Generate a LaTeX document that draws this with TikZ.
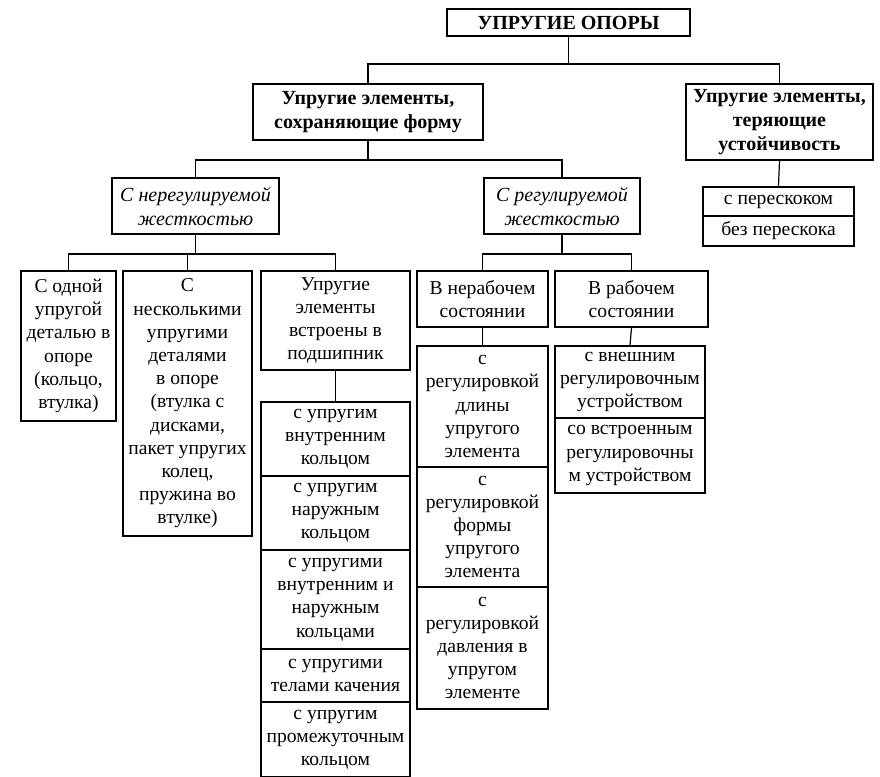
\documentclass[tikz,border=0pt]{standalone}
\usepackage{fontspec}
\setmainfont{Liberation Serif}
\usetikzlibrary{positioning}
\definecolor{FrameBlack}{RGB}{0, 0, 0}

\begin{document}
\begin{tikzpicture}[x=0.5pt, y=-0.5pt,
  box/.style={draw=FrameBlack, line width=0.9pt, align=center, inner sep=0pt, font=\fontsize{9.8}{11.6}\selectfont},
  headbox/.style={box, font=\fontsize{10}{12}\selectfont\bfseries},
  kindbox/.style={box, font=\fontsize{10}{12}\selectfont\itshape},
  cell/.style={box, line width=0.7pt},
  link/.style={draw=FrameBlack, line width=0.6pt}]
\useasboundingbox (0,0) rectangle (880,777);
\node[headbox, minimum width=121.5pt, minimum height=13.5pt] (root) at (568.5,22.5) {УПРУГИЕ ОПОРЫ};
\node[headbox, minimum width=115pt, minimum height=28pt] (keep) at (368,112) {Упругие элементы,\\сохраняющие форму};
\node[headbox, minimum width=93.5pt, minimum height=38pt] (lose) at (779.5,122) {Упругие элементы,\\теряющие\\устойчивость};
\node[cell, minimum width=75.5pt, minimum height=14.5pt] (snap) at (778.5,201.5) {с перескоком};
\node[cell, minimum width=75.5pt, minimum height=15pt] (nosnap) at (778.5,231) {без перескока};
\node[kindbox, minimum width=83.5pt, minimum height=28pt] (fixed) at (195.5,206) {С нерегулируемой\\жесткостью};
\node[kindbox, minimum width=78pt, minimum height=28pt] (tuned) at (562,206) {С регулируемой\\жесткостью};
\node[box, minimum width=47.5pt, minimum height=75pt] (one) at (68.5,346) {С одной\\упругой\\деталью в\\опоре\\(кольцо,\\втулка)};
\node[box, minimum width=64.5pt, minimum height=132.5pt] (many) at (187.5,403.5) {С\\несколькими\\упругими\\деталями\\в опоре\\(втулка с\\дисками,\\пакет упругих\\колец,\\пружина во\\втулке)};
\node[box, minimum width=74.5pt, minimum height=49.5pt] (inbear) at (335.5,320.5) {Упругие\\элементы\\встроены в\\подшипник};
\node[cell, minimum width=74.5pt, minimum height=37pt] (inring) at (335.5,439) {с упругим\\внутренним\\кольцом};
\node[cell, minimum width=74.5pt, minimum height=37pt] (outring) at (335.5,513) {с упругим\\наружным\\кольцом};
\node[cell, minimum width=74.5pt, minimum height=49.5pt] (bothring) at (335.5,599.5) {с упругими\\внутренним и\\наружным\\кольцами};
\node[cell, minimum width=74.5pt, minimum height=26.5pt] (rollers) at (335.5,675.5) {с упругими\\телами качения};
\node[cell, minimum width=74.5pt, minimum height=37.5pt] (midring) at (335.5,739.5) {с упругим\\промежуточным\\кольцом};
\node[box, minimum width=65.5pt, minimum height=28pt] (idle) at (482.5,299) {В нерабочем\\состоянии};
\node[box, minimum width=76.5pt, minimum height=28pt] (work) at (631.5,299) {В рабочем\\состоянии};
\node[cell, minimum width=65.5pt, minimum height=60.5pt] (length) at (482.5,406.5) {с\\регулировкой\\длины\\упругого\\элемента};
\node[cell, minimum width=65.5pt, minimum height=60pt] (shape) at (482.5,527) {с\\регулировкой\\формы\\упругого\\элемента};
\node[cell, minimum width=65.5pt, minimum height=61pt] (press) at (482.5,648) {с\\регулировкой\\давления в\\упругом\\элементе};
\node[cell, minimum width=75pt, minimum height=36pt] (outer) at (630,382) {с внешним\\регулировочным\\устройством};
\node[cell, minimum width=75pt, minimum height=37.5pt] (built) at (630,455.5) {со встроенным\\регулировочны\\м устройством};
\draw[link] (root.south) -- ++(0,27) -| (keep.north);
\draw[link] (root.south) -- ++(0,27) -| (lose.north);
\draw[link] (lose.south) -- (snap.north);
\draw[link] (keep.south) -- ++(0,19) -| (fixed.north);
\draw[link] (keep.south) -- ++(0,19) -| (tuned.north);
\draw[link] (fixed.south) -- ++(0,19) -| (one.north);
\draw[link] (fixed.south) -- ++(0,19) -| (many.north);
\draw[link] (fixed.south) -- ++(0,19) -| (inbear.north);
\draw[link] (tuned.south) -- ++(0,19) -| (idle.north);
\draw[link] (tuned.south) -- ++(0,19) -| (work.north);
\draw[link] (inbear.south) -- (inring.north);
\draw[link] (idle.south) -- (length.north);
\draw[link] (work.south) -- (outer.north);
\end{tikzpicture}
\end{document}
